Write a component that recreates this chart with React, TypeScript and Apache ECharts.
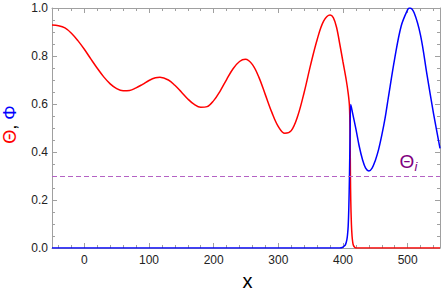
import React, { useEffect, useRef } from "react";
import * as echarts from "echarts";

// Θ (red) curve
const thetaX = [-50, -40, -30, -20, -10, 0, 10, 20, 30, 40, 50, 60, 70, 80, 90, 100, 110, 117, 130, 140, 150, 160, 170, 180, 190, 200, 210, 220, 230, 240, 249, 260, 270, 280, 290, 300, 310, 320, 330, 340, 350, 360, 370, 380, 385, 390, 395, 400, 405, 408, 410, 411, 411.5, 412, 413, 414, 415, 416, 418, 420, 550];
const thetaY = [0.929, 0.926, 0.917, 0.895, 0.864, 0.828, 0.788, 0.749, 0.713, 0.684, 0.664, 0.655, 0.656, 0.667, 0.682, 0.698, 0.709, 0.711, 0.700, 0.678, 0.650, 0.621, 0.598, 0.586, 0.589, 0.614, 0.654, 0.702, 0.747, 0.777, 0.786, 0.764, 0.711, 0.638, 0.565, 0.506, 0.478, 0.489, 0.550, 0.649, 0.764, 0.868, 0.945, 0.971, 0.960, 0.920, 0.850, 0.775, 0.700, 0.645, 0.590, 0.450, 0.300, 0.200, 0.100, 0.050, 0.025, 0.012, 0.003, 0, 0];

// Φ (blue) curve
const phiX = [-50, 395, 399, 402, 404, 406, 407, 408, 409, 410, 411, 412, 415, 420, 425, 430, 435, 440, 445, 450, 455, 460, 465, 470, 480, 490, 500, 503, 510, 520, 530, 540, 550];
const phiY = [0, 0, 0.002, 0.008, 0.015, 0.035, 0.055, 0.09, 0.17, 0.30, 0.48, 0.598, 0.56, 0.495, 0.425, 0.37, 0.333, 0.321, 0.333, 0.365, 0.41, 0.47, 0.54, 0.625, 0.79, 0.925, 0.993, 1.0, 0.98, 0.885, 0.72, 0.56, 0.415];

const thetaI = 0.3;

const xMin = -50;
const xMax = 550;
const yMin = 0;
const yMax = 1;

const FONT = "'Liberation Sans', Arial, sans-serif";
const FRAME = "#a0a0a0";

export default function App() {
  const ref = useRef<HTMLDivElement>(null);
  useEffect(() => {
    if (!ref.current) return;
    const chart = echarts.init(ref.current, undefined, { renderer: "svg" });
    const xCommon = {
      type: "value" as const,
      min: xMin,
      max: xMax,
      splitNumber: 6,
      splitLine: { show: false },
      axisLine: { show: true, onZero: false, lineStyle: { color: FRAME, width: 1 } },
      axisTick: { show: true, inside: true, length: 5, lineStyle: { color: FRAME } },
      minorTick: { show: true, splitNumber: 5, length: 3, lineStyle: { color: FRAME } },
    };
    const yCommon = {
      type: "value" as const,
      min: yMin,
      max: yMax,
      interval: 0.2,
      splitLine: { show: false },
      axisLine: { show: true, onZero: false, lineStyle: { color: FRAME, width: 1 } },
      axisTick: { show: true, inside: true, length: 5, lineStyle: { color: FRAME } },
      minorTick: { show: true, splitNumber: 4, length: 3, lineStyle: { color: FRAME } },
    };
    chart.setOption({
      animation: false,
      grid: { left: 52, right: 2, top: 8, bottom: 46, containLabel: false },
      xAxis: [
        {
          ...xCommon,
          position: "bottom",
          axisLabel: {
            show: true,
            margin: 6,
            fontSize: 12,
            color: "#222",
            fontFamily: FONT,
            formatter: (v: number) => (v % 100 === 0 ? String(v) : ""),
          },
        },
        { ...xCommon, position: "top", axisLabel: { show: false } },
      ],
      yAxis: [
        {
          ...yCommon,
          position: "left",
          axisLabel: {
            show: true,
            margin: 4,
            fontSize: 12,
            color: "#222",
            fontFamily: FONT,
            formatter: (v: number) => v.toFixed(1),
          },
        },
        { ...yCommon, position: "right", axisLabel: { show: false } },
      ],
      series: [
        {
          type: "line",
          name: "Θ",
          data: thetaX.map((x, i) => [x, thetaY[i]]),
          showSymbol: false,
          smooth: 0.35,
          lineStyle: { color: "#ff0000", width: 1.5 },
          itemStyle: { color: "#ff0000" },
          markLine: {
            silent: true,
            symbol: "none",
            label: { show: false },
            lineStyle: { color: "#b462c4", type: [5, 3], width: 1.2 },
            data: [{ yAxis: thetaI }],
          },
          z: 2,
        },
        {
          type: "line",
          name: "Φ",
          data: phiX.map((x, i) => [x, phiY[i]]),
          showSymbol: false,
          smooth: 0.35,
          lineStyle: { color: "#0000ff", width: 1.5 },
          itemStyle: { color: "#0000ff" },
          z: 3,
        },
      ],
      graphic: [
        {
          type: "text",
          x: 10,
          y: 124.5,
          rotation: Math.PI / 2,
          style: {
            text: "{a|Θ}{b|,} {c|Φ}",
            align: "center",
            verticalAlign: "middle",
            fontSize: 18,
            fontFamily: FONT,
            rich: {
              a: { fill: "#ff0000", fontSize: 18, fontFamily: FONT },
              b: { fill: "#000", fontSize: 18, fontFamily: FONT },
              c: { fill: "#0000ff", fontSize: 18, fontFamily: FONT },
            },
          },
        },
        {
          type: "text",
          x: 247.5,
          y: 281,
          style: {
            text: "x",
            align: "center",
            verticalAlign: "middle",
            fontSize: 20,
            fontFamily: FONT,
            fill: "#000",
          },
        },
        {
          type: "text",
          x: 399.5,
          y: 161.5,
          style: {
            text: "Θ",
            align: "left",
            verticalAlign: "middle",
            fontSize: 19,
            fontFamily: FONT,
            fill: "#800080",
          },
        },
        {
          type: "text",
          x: 414.5,
          y: 166,
          style: {
            text: "i",
            align: "left",
            verticalAlign: "middle",
            fontSize: 13,
            fontStyle: "italic",
            fontFamily: FONT,
            fill: "#800080",
          },
        },
      ],
    });
    return () => chart.dispose();
  }, []);
  return <div ref={ref} style={{ width: 443, height: 294, position: "absolute", left: 0, top: 0 }} />;
}
